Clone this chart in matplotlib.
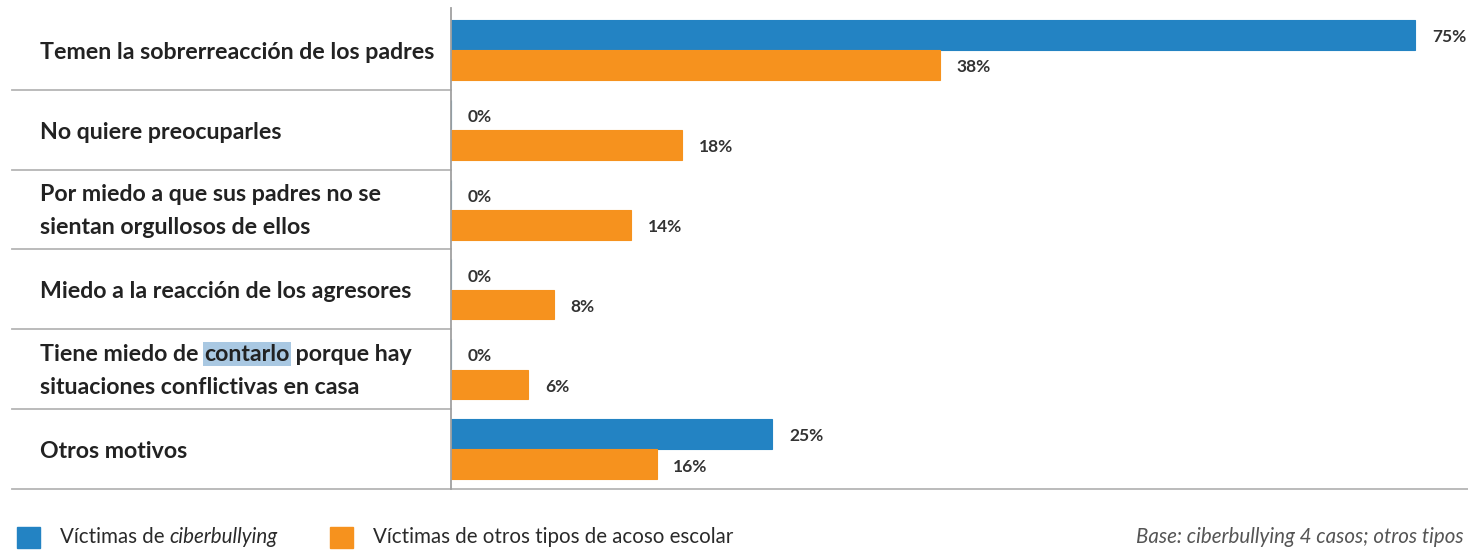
import matplotlib.pyplot as plt
from matplotlib.patches import Rectangle

# data
categories = [
    "Temen la sobrerreacción de los padres",
    "No quiere preocuparles",
    "Por miedo a que sus padres no se\nsientan orgullosos de ellos",
    "Miedo a la reacción de los agresores",
    "Tiene miedo de contarlo porque hay\nsituaciones conflictivas en casa",
    "Otros motivos",
]
ciber = [75, 0, 0, 0, 0, 25]
otros = [38, 18, 14, 8, 6, 16]
series_names = ["Víctimas de ", "ciberbullying", "Víctimas de otros tipos de acoso escolar"]
note = "Base: ciberbullying 4 casos; otros tipos"

BLUE = "#2383c3"
ORANGE = "#f6921e"
FONT = ["Lato", "DejaVu Sans"]
plt.rcParams["font.family"] = FONT

LAB_FS = 16.7
VAL_FS = 12.5
LEG_FS = 14.8

fig = plt.figure(figsize=(14.68, 5.5), dpi=100)
ax = fig.add_axes([451 / 1468, 1 - 489 / 550, 1 - 451 / 1468, 481 / 550])

n = len(categories)
ypos = list(range(n))
h = 0.37
ax.barh([y - 0.19 for y in ypos], ciber, height=h, color=BLUE, edgecolor=BLUE, linewidth=0.8)
ax.barh([y + 0.19 for y in ypos], otros, height=h, color=ORANGE, edgecolor=ORANGE, linewidth=0.8)

for y, v in zip(ypos, ciber):
    ax.annotate(f"{v}%", xy=(v, y - 0.16), xytext=(12, 0), textcoords="offset points",
                va="center", ha="left", fontsize=VAL_FS, fontweight="bold", color="#333333",
                annotation_clip=False)
for y, v in zip(ypos, otros):
    ax.annotate(f"{v}%", xy=(v, y + 0.22), xytext=(12, 0), textcoords="offset points",
                va="center", ha="left", fontsize=VAL_FS, fontweight="bold", color="#333333")

ax.set_xlim(0, 79.1)
ax.set_ylim(n - 0.5, -0.525)
ax.set_xticks([])
ax.set_yticks([])
for s in ["top", "right", "bottom"]:
    ax.spines[s].set_visible(False)
ax.spines["left"].set_color("#a0a0a0")
ax.spines["left"].set_linewidth(1.3)

# row separators on the label side, last one across the whole width
tr = ax.get_yaxis_transform()
xl = -(451 - 12) / 1017
for y in [i + 0.5 for i in range(n - 1)]:
    ax.plot([xl, 0], [y, y], transform=tr, color="#b5b5b5", lw=1.3, clip_on=False)
ax.plot([xl, 1], [n - 0.5, n - 0.5], transform=tr, color="#b5b5b5", lw=1.3, clip_on=False)

# category labels
lx = -(451 - 40) / 1017
lab_kw = dict(fontsize=LAB_FS, fontweight="bold", color="#222222", va="center", ha="left")
for y, c in zip(ypos, categories):
    lines = c.split("\n")
    if len(lines) == 1:
        ax.text(lx, y + 0.03, c, transform=tr, clip_on=False, **lab_kw)
        continue
    line1, line2 = lines
    y1, y2 = y - 0.19, y + 0.23
    if "contarlo" in line1:
        pre, rest = line1.split("contarlo")
        t1 = ax.text(lx, y1, pre, transform=tr, clip_on=False, **lab_kw)
        t2 = ax.annotate("contarlo", xy=(1, 0), xycoords=t1, ha="left", va="bottom",
                         fontsize=LAB_FS, fontweight="bold", color="#222222",
                         bbox=dict(boxstyle="square,pad=0.05", fc="#a9c8e2", ec="none"))
        ax.annotate(rest, xy=(1, 0), xycoords=t2, ha="left", va="bottom",
                    fontsize=LAB_FS, fontweight="bold", color="#222222")
    else:
        ax.text(lx, y1, line1, transform=tr, clip_on=False, **lab_kw)
    ax.text(lx, y2, line2, transform=tr, clip_on=False, **lab_kw)

# legend row at the bottom
ly = 1 - 537 / 550
fig.patches.append(Rectangle((17 / 1468, 1 - 548 / 550), 23 / 1468, 21 / 550,
                             transform=fig.transFigure, color=BLUE))
fig.patches.append(Rectangle((330 / 1468, 1 - 548 / 550), 23 / 1468, 21 / 550,
                             transform=fig.transFigure, color=ORANGE))
leg_kw = dict(fontsize=LEG_FS, color="#2a2a2a", va="center", ha="left")
t = fig.text(60 / 1468, ly, series_names[0], **leg_kw)
ax.annotate(series_names[1], xy=(1, 0), xycoords=t, va="bottom", ha="left",
            fontsize=LEG_FS, color="#2a2a2a", style="italic", annotation_clip=False)
fig.text(373 / 1468, ly, series_names[2], **leg_kw)
fig.text(1464 / 1468, ly, note, fontsize=LEG_FS, color="#555555", style="italic",
         va="center", ha="right")

fig.savefig("out.png", dpi=100)
